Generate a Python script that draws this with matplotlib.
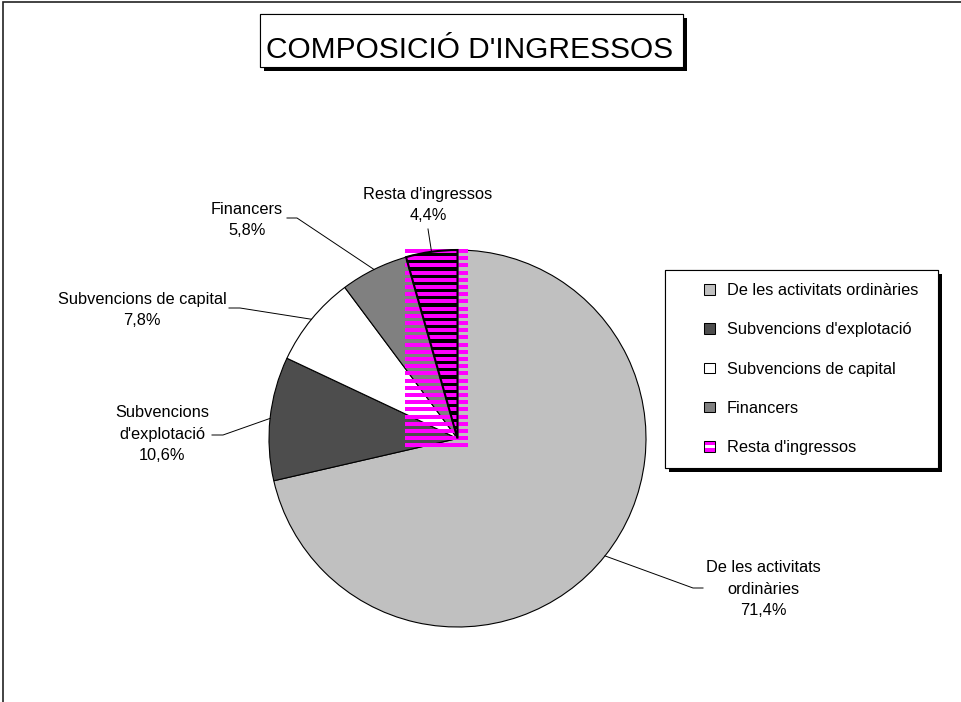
import numpy as np
import matplotlib
matplotlib.use("Agg")
import matplotlib.pyplot as plt
import matplotlib.patheffects as pe
from matplotlib.patches import Rectangle, Wedge, Patch
from matplotlib.legend_handler import HandlerBase

plt.rcParams['font.family'] = ['Liberation Sans', 'DejaVu Sans']

# ---- data ----
categories = ["De les activitats ordinàries", "Subvencions d'explotació",
              "Subvencions de capital", "Financers", "Resta d'ingressos"]
slice_labels = ["De les activitats\nordinàries", "Subvencions\nd'explotació",
                "Subvencions de capital", "Financers", "Resta d'ingressos"]
shares = [71.4, 10.6, 7.8, 5.8, 4.4]
colors = ["#c0c0c0", "#4d4d4d", "#ffffff", "#808080", "#000000"]
title = "COMPOSICIÓ D'INGRESSOS"

# ---- layout (reference pixels, origin top-left) ----
W, H = 962, 702
CX, CY, R_PX = 457.5, 438.5, 188.5
label_xy = [(763, 589), (162, 434), (142, 310), (247, 220), (428, 205)]
leader_start = [(703, 588), (212, 435), (229, 308), (287, 218), (428, 229)]
leader_elbow = [(693, 588), (223, 435), (240, 308), (297, 218), (428, 229)]
MAGENTA = "#ff00ff"


def px(x, y):
    """reference pixel -> pie data units (radius = 1)"""
    return (x - CX) / R_PX, (CY - y) / R_PX


def fx(x, y):
    """reference pixel -> figure fraction"""
    return x / W, 1 - y / H


fig = plt.figure(figsize=(W / 100, H / 100), dpi=100)
ax = fig.add_axes([0, 0, 1, 1])

wedges, _ = ax.pie(shares, colors=colors, startangle=90, counterclock=False,
                   radius=1, center=(0, 0),
                   wedgeprops=dict(edgecolor='black', linewidth=0.8))
ax.set_xlim(-CX / R_PX, (W - CX) / R_PX)
ax.set_ylim(-(H - CY) / R_PX, CY / R_PX)
ax.set_aspect('auto')
ax.axis('off')

# striped fill of the last slice, spilling over its bounding box
resta = wedges[-1]
x0 = np.cos(np.radians(max(resta.theta1, resta.theta2))) - 0.004
x1, y0, y1 = 0.055, -0.06, 1.005
period, band = 7.2 / R_PX, 4.0 / R_PX
for ytop in np.arange(y1, y0, -period):
    ax.add_patch(Rectangle((x0, ytop - band), x1 - x0, band, facecolor=MAGENTA,
                           edgecolor='none', zorder=2))
ax.add_patch(Wedge((0, 0), 1, resta.theta1, resta.theta2, facecolor='none',
                   edgecolor='black', linewidth=1.5, zorder=3))

# slice labels and leader lines
for w, lab, v, lxy, s, e in zip(wedges, slice_labels, shares, label_xy,
                                leader_start, leader_elbow):
    mid = np.radians((w.theta1 + w.theta2) / 2)
    edge = (np.cos(mid), np.sin(mid))
    p_s, p_e = px(*s), px(*e)
    ax.plot([p_s[0], p_e[0], edge[0]], [p_s[1], p_e[1], edge[1]],
            color='black', linewidth=0.7, zorder=4)
    txt = f"{lab}\n{v:.1f}%".replace('.', ',')
    ax.text(*px(*lxy), txt, ha='center', va='center', multialignment='center',
            fontsize=11.8, linespacing=1.55, zorder=5)

# title in a shadowed box
shadow = [pe.withSimplePatchShadow(offset=(3, -3), shadow_rgbFace='black',
                                   alpha=1.0), pe.Normal()]
tbox = Rectangle(fx(260, 67), 423 / W, 53 / H, transform=fig.transFigure,
                 facecolor='white', edgecolor='black', linewidth=0.8)
tbox.set_path_effects(shadow)
fig.add_artist(tbox)
fig.text(*fx(470, 58), title, ha='center', va='baseline', fontsize=21.5)


# legend with small square keys
class SquareHandler(HandlerBase):
    def __init__(self, stripes=False):
        super().__init__()
        self.stripes = stripes

    def create_artists(self, legend, orig_handle, xdescent, ydescent,
                       width, height, fontsize, trans):
        side = height
        x, y = -xdescent + width - side, -ydescent
        arts = [Rectangle((x, y), side, side, transform=trans,
                          facecolor=orig_handle.get_facecolor(), edgecolor='none')]
        if self.stripes:
            for k in (0, 2):
                arts.append(Rectangle((x, y + k * side / 3), side, side / 3,
                                      transform=trans, facecolor=MAGENTA,
                                      edgecolor='none'))
        arts.append(Rectangle((x, y), side, side, transform=trans,
                              facecolor='none', edgecolor='black', linewidth=0.75))
        return arts


handles = [Patch(facecolor=c, label=n) for c, n in zip(colors, categories)]
handles[-1] = Patch(facecolor='white', label=categories[-1])
hmap = {h: SquareHandler() for h in handles[:-1]}
hmap[handles[-1]] = SquareHandler(stripes=True)
leg = fig.legend(handles=handles, handler_map=hmap, loc='upper left',
                 bbox_to_anchor=(665 / W, 1 - 465 / H, (938 - 665) / W, (465 - 270) / H),
                 mode='expand', fancybox=False, frameon=True, borderaxespad=0,
                 prop={'size': 11.8}, borderpad=0.8, handlelength=2.25,
                 handleheight=0.62, handletextpad=0.73, labelspacing=1.48)
frame = leg.get_frame()
frame.set_edgecolor('black')
frame.set_linewidth(0.8)
frame.set_alpha(1)
frame.set_path_effects(shadow)

# outer chart-area border (right/bottom edges fall outside the picture)
fig.add_artist(Rectangle((3 / W, -0.1), 1.2, (H - 2) / H + 0.1,
                         transform=fig.transFigure, fill=False,
                         edgecolor='#222222', linewidth=1.2))

fig.savefig('out.png', dpi=100)
